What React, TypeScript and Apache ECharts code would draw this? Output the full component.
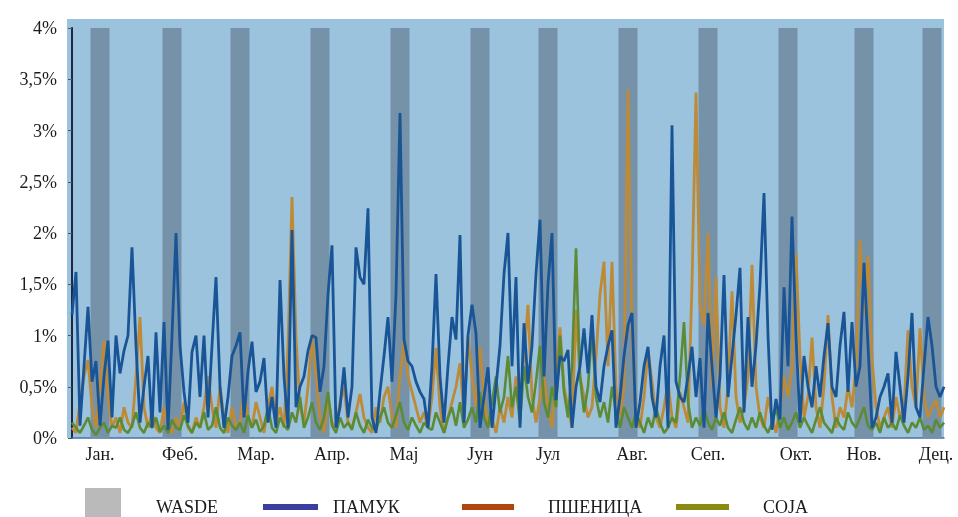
import React, { useEffect, useRef } from 'react';
import * as echarts from 'echarts';

const monthLabels = ['Јан.', 'Феб.', 'Мар.', 'Апр.', 'Мај', 'Јун', 'Јул', 'Авг.', 'Сеп.', 'Окт.', 'Нов.', 'Дец.'];
const monthIdx = [7, 27, 46, 65, 83, 102, 119, 140, 159, 181, 198, 216];
const wasdeIdx = [7, 25, 42, 62, 82, 102, 119, 139, 159, 179, 198, 215];
const yTicks = [0, 0.5, 1, 1.5, 2, 2.5, 3, 3.5, 4];

const pamuk = [
  1.2, 1.62, 0.12, 0.7, 1.28, 0.55, 0.75, 0.12, 0.6, 0.95,
  0.2, 1.0, 0.63, 0.85, 1.0, 1.86, 0.9, 0.15, 0.5, 0.8,
  0.1, 1.03, 0.25, 1.13, 0.08, 1.0, 2.0, 0.9, 0.45, 0.15,
  0.84, 1.0, 0.4, 1.0, 0.2, 0.9, 1.57, 0.5, 0.1, 0.4,
  0.8, 0.9, 1.03, 0.2, 0.65, 0.94, 0.45, 0.55, 0.78, 0.15,
  0.4, 0.1, 1.54, 0.6, 0.1, 2.03, 0.3, 0.5, 0.6, 0.85,
  1.0, 0.98, 0.45, 0.7, 1.4, 1.88, 0.1, 0.3, 0.69, 0.2,
  0.5, 1.86, 1.57, 1.5, 2.24, 0.2, 0.05, 0.45, 0.8, 1.18,
  0.55, 1.4, 3.17, 0.96, 0.75, 0.7, 0.55, 0.45, 0.38, 0.1,
  0.7, 1.6, 0.6, 0.15, 0.7, 1.18, 0.96, 1.98, 0.15, 1.0,
  1.3, 1.02, 0.1, 0.4, 0.69, 0.1, 0.5, 0.9, 1.6, 2.0,
  0.7, 1.57, 0.1, 1.12, 0.53, 0.9, 1.6, 2.13, 0.6, 1.5,
  2.0, 0.37, 0.8, 0.75, 0.86, 0.1, 0.5, 0.7, 1.07, 0.63,
  1.2, 0.5, 0.35, 0.7, 0.9, 1.05, 0.1, 0.4, 0.8, 1.1,
  1.22, 0.1, 0.35, 0.7, 0.89, 0.4, 0.2, 0.7, 1.0, 0.1,
  3.05, 0.55, 0.4, 0.35, 0.6, 0.89, 0.4, 0.78, 0.1, 1.22,
  0.7, 0.2, 0.6, 1.59, 0.4, 0.8, 1.2, 1.66, 0.25, 1.18,
  0.5, 0.9, 1.5, 2.39, 1.0, 0.08, 0.38, 0.18, 1.47, 0.7,
  2.16, 1.0, 0.15, 0.8, 0.5, 0.3, 0.7, 0.4, 0.8, 1.12,
  0.5, 0.4, 0.9, 1.23, 0.45, 1.13, 0.5, 0.7, 1.71, 0.9,
  0.1, 0.2, 0.4, 0.5, 0.63, 0.15, 0.84, 0.5, 0.15, 0.6,
  1.22, 0.3, 0.2, 0.7, 1.18, 0.9, 0.5, 0.4, 0.5,
];

const psenica = [
  0.1, 0.05, 0.35, 0.6, 0.76, 0.3, 0.1, 0.5, 0.95, 0.4,
  0.1, 0.2, 0.05, 0.3, 0.15, 0.1, 0.6, 1.18, 0.3, 0.1,
  0.25, 0.1, 0.05, 0.3, 0.1, 0.05, 0.2, 0.1, 0.35, 0.1,
  0.05, 0.2, 0.1, 0.3, 0.6, 0.3, 0.1, 0.5, 0.2, 0.05,
  0.3, 0.1, 0.15, 0.45, 0.2, 0.1, 0.35, 0.2, 0.05, 0.3,
  0.5, 0.15, 0.3, 0.1, 0.9, 2.35, 0.98, 0.3, 0.15, 0.5,
  1.0, 0.6, 0.2, 0.05, 0.4, 0.15, 0.1, 0.35, 0.5, 0.15,
  0.1, 0.25, 0.43, 0.2, 0.1, 0.05, 0.3, 0.15, 0.4, 0.5,
  0.2, 0.1, 0.6, 0.96, 0.6, 0.45, 0.3, 0.15, 0.25, 0.1,
  0.4, 0.88, 0.3, 0.05, 0.2, 0.35, 0.5, 0.73, 0.2, 0.99,
  0.6, 0.3, 0.89, 0.4, 0.1, 0.2, 0.05, 0.3, 0.15, 0.4,
  0.2, 0.6, 0.3, 0.8, 1.3, 0.4, 0.15, 0.4, 0.6, 0.3,
  0.1, 0.6, 1.08, 0.5, 0.3, 0.1, 1.25, 0.6, 0.4, 0.2,
  0.3, 0.8, 1.4, 1.72, 0.7, 1.72, 0.5, 0.2, 0.5, 3.4,
  1.0, 0.2, 0.1, 0.4, 0.86, 0.55, 0.2, 0.1, 0.3, 0.55,
  0.2, 0.1, 0.45, 0.3, 0.15, 1.5, 3.37, 1.3, 1.1, 2.0,
  0.5, 1.57, 0.3, 0.1, 0.5, 1.43, 0.4, 0.15, 0.3, 0.6,
  1.69, 0.5, 0.2, 0.1, 0.4, 0.2, 0.05, 0.3, 0.6, 0.4,
  0.7, 1.8, 0.8, 0.2, 0.4, 0.98, 0.3, 0.1, 0.5, 1.2,
  0.4, 0.1, 0.3, 0.2, 0.5, 0.3, 0.7, 1.93, 1.2, 1.77,
  0.78, 0.3, 0.1, 0.2, 0.3, 0.1, 0.4, 0.2, 0.3, 1.05,
  0.5, 0.3, 1.07, 0.4, 0.2, 0.3, 0.37, 0.2, 0.3,
];

const soja = [
  0.15, 0.1, 0.05, 0.12, 0.2, 0.08, 0.03, 0.1, 0.15, 0.05,
  0.12, 0.1, 0.2, 0.08, 0.05, 0.12, 0.25, 0.1, 0.05, 0.15,
  0.1, 0.2, 0.06, 0.12, 0.05, 0.18, 0.1, 0.08, 0.22, 0.12,
  0.05, 0.15, 0.1, 0.25, 0.08, 0.12, 0.3, 0.1, 0.05, 0.2,
  0.12, 0.08, 0.15, 0.05, 0.22, 0.1, 0.18, 0.06, 0.12, 0.3,
  0.1, 0.05, 0.2, 0.12, 0.08, 0.25, 0.15, 0.4, 0.1, 0.2,
  0.35, 0.15, 0.08, 0.2, 0.45, 0.12, 0.05, 0.2, 0.1, 0.15,
  0.08, 0.25, 0.12, 0.05, 0.18, 0.1, 0.08, 0.2, 0.3, 0.15,
  0.1, 0.22, 0.35, 0.15, 0.08, 0.2, 0.12, 0.05, 0.15, 0.1,
  0.08, 0.25, 0.15, 0.05, 0.2, 0.3, 0.12, 0.35, 0.1, 0.18,
  0.3, 0.15, 0.45, 0.2, 0.1, 0.35, 0.6, 0.25, 0.4, 0.8,
  0.3, 0.5, 0.15, 0.7, 0.4, 0.25, 0.55, 0.9, 0.35, 0.2,
  0.5, 0.3, 1.0, 0.45, 0.2, 0.7, 1.85, 0.6, 0.25, 0.5,
  1.05, 0.4, 0.2, 0.35, 0.15, 0.5, 0.25, 0.1, 0.3, 0.2,
  0.1, 0.25, 0.15, 0.05, 0.2, 0.1, 0.3, 0.15, 0.05, 0.1,
  0.2, 0.15, 0.6, 1.13, 0.35, 0.1, 0.2, 0.12, 0.3, 0.15,
  0.08, 0.2, 0.12, 0.25, 0.1, 0.05, 0.18, 0.3, 0.15, 0.08,
  0.2, 0.1, 0.25, 0.12, 0.05, 0.15, 0.3, 0.1, 0.2, 0.08,
  0.15, 0.25, 0.1, 0.2, 0.12, 0.05, 0.18, 0.3, 0.15, 0.1,
  0.05, 0.2, 0.12, 0.08, 0.25, 0.15, 0.1, 0.2, 0.3, 0.12,
  0.08, 0.15, 0.05, 0.2, 0.1, 0.15, 0.08, 0.22, 0.12, 0.05,
  0.15, 0.1, 0.2, 0.08, 0.12, 0.05, 0.18, 0.1, 0.15,
];

const days = pamuk.map((_, i) => String(i + 1));

const SERIF = '"Liberation Serif", "Times New Roman", serif';
const TEXT = '#1b1b1b';

export default function App() {
  const ref = useRef<HTMLDivElement>(null);
  useEffect(() => {
    const chart = echarts.init(ref.current!, null, { renderer: 'svg' });
    const wasde = days.map((_, i) => (wasdeIdx.includes(i) ? 4 : '-'));
    const legendText = (x: number, text: string) => ({
      type: 'text', x, y: 507,
      style: { text, fill: TEXT, font: `18px ${SERIF}`, verticalAlign: 'middle', align: 'left' },
    });
    const legendLine = (x: number, w: number, color: string) => ({
      type: 'rect', shape: { x, y: 504, width: w, height: 6 }, style: { fill: color },
    });
    chart.setOption({
      animation: false,
      grid: { left: 72, right: 14, top: 28, bottom: 79 },
      graphic: [
        { type: 'rect', z: -10, silent: true, shape: { x: 67, y: 19, width: 877, height: 419 }, style: { fill: '#9cc3dd' } },
        { type: 'rect', shape: { x: 85, y: 488, width: 36, height: 30 }, style: { fill: '#bababa' } },
        legendText(156, 'WASDE'),
        legendLine(263, 55, '#3a3f9f'),
        legendText(333, 'ПАМУК'),
        legendLine(462, 52, '#b2440f'),
        legendText(548, 'ПШЕНИЦА'),
        legendLine(676, 53, '#898a12'),
        legendText(763, 'СОЈА'),
      ],
      xAxis: {
        type: 'category',
        data: days,
        boundaryGap: false,
        axisLine: { show: true, lineStyle: { color: '#4f6f9f', width: 1.5 } },
        axisTick: { show: false },
        splitLine: { show: false },
        axisLabel: {
          interval: 0,
          margin: 7,
          color: TEXT,
          fontFamily: SERIF,
          fontSize: 18,
          formatter: (_v: string, i: number) => {
            const k = monthIdx.indexOf(i);
            return k >= 0 ? monthLabels[k] : '';
          },
        },
      },
      yAxis: {
        type: 'value',
        min: yTicks[0],
        max: yTicks[yTicks.length - 1],
        interval: 0.5,
        splitLine: { show: false },
        axisLine: { show: true, lineStyle: { color: '#1c2944', width: 2 } },
        axisTick: { show: true, length: 4, lineStyle: { color: '#555' } },
        axisLabel: {
          color: TEXT,
          fontFamily: SERIF,
          fontSize: 18,
          margin: 15,
          padding: [0, 0, 10, 0],
          formatter: (v: number) => String(v).replace('.', ',') + '%',
        },
      },
      series: [
        {
          name: 'WASDE', type: 'bar', data: wasde, barWidth: 19, silent: true, z: 1,
          itemStyle: { color: '#7692a9' },
        },
        {
          name: 'ПШЕНИЦА', type: 'line', data: psenica, showSymbol: false, z: 3, silent: true,
          lineStyle: { color: '#bd8a37', width: 2.8 }, itemStyle: { color: '#bd8a37' },
        },
        {
          name: 'СОЈА', type: 'line', data: soja, showSymbol: false, z: 4, silent: true,
          lineStyle: { color: '#5b8b35', width: 2.6 }, itemStyle: { color: '#5b8b35' },
        },
        {
          name: 'ПАМУК', type: 'line', data: pamuk, showSymbol: false, z: 5, silent: true,
          lineStyle: { color: '#195596', width: 2.8 }, itemStyle: { color: '#195596' },
        },
      ],
    });
    return () => chart.dispose();
  }, []);
  return <div ref={ref} style={{ position: 'fixed', left: 0, top: 0, width: 958, height: 517 }} />;
}
